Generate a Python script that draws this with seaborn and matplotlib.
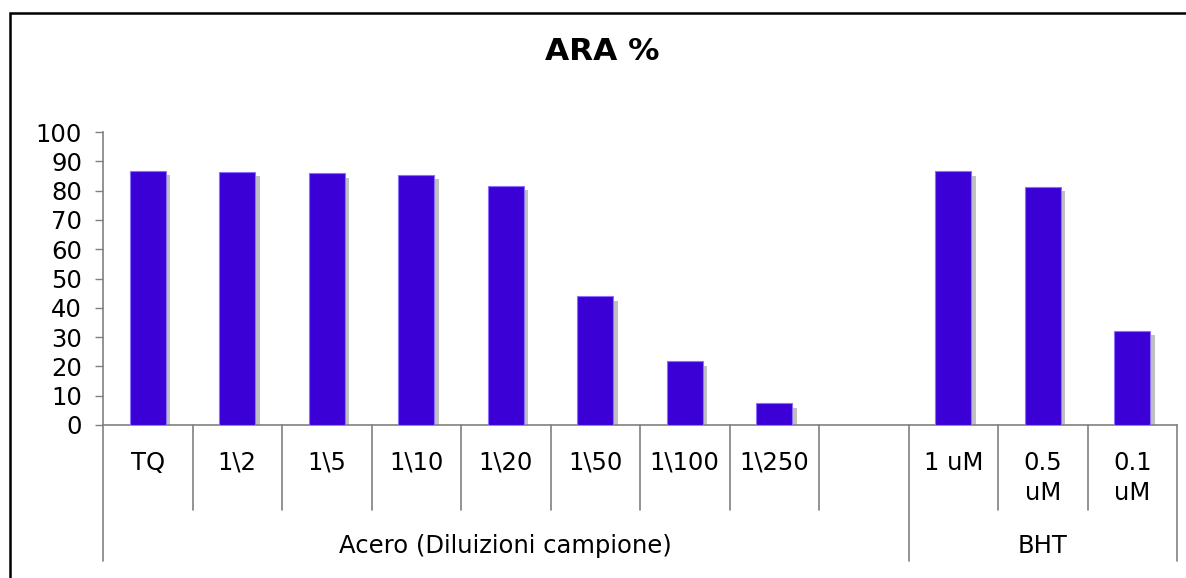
import matplotlib
matplotlib.use("Agg")
import matplotlib.pyplot as plt
import matplotlib.transforms as mtransforms
from matplotlib.patches import Rectangle
import seaborn as sns
import pandas as pd
import numpy as np

# ---- data ----
categories = ["TQ", "1\\2", "1\\5", "1\\10", "1\\20", "1\\50", "1\\100", "1\\250", "",
              "1 uM", "0.5\nuM", "0.1\nuM"]
values = [86.8, 86.4, 86.0, 85.4, 81.6, 43.9, 21.7, 7.4, np.nan, 86.6, 81.3, 32.2]
groups = ["Acero (Diluizioni campione)", "BHT"]
group_sizes = [9, 3]
yticks = [0, 10, 20, 30, 40, 50, 60, 70, 80, 90, 100]
title = "ARA %"

sns.set_theme(style="white")
plt.rcParams['font.family'] = ['DejaVu Sans']

fig = plt.figure(figsize=(11.86, 5.78), dpi=100)
W, H = 1186, 578
ax = fig.add_axes([103 / W, 1 - 425 / H, (1177 - 103) / W, (425 - 132) / H])

df = pd.DataFrame({"cat": categories, "val": values}).dropna()
order_keys = [c if c != "" else " " for c in categories]
df["cat"] = df["cat"].replace("", " ")

sns.barplot(data=df, x="cat", y="val", order=order_keys, color="#3A00D6",
            saturation=1, width=0.4, edgecolor="#8A70FF", linewidth=0.8, ax=ax, zorder=3)

# shadows
shadow_tr = mtransforms.offset_copy(ax.transData, fig=fig, x=4.5, y=-4.5, units="dots")
for p in list(ax.patches):
    if np.isnan(p.get_height()) or p.get_height() == 0:
        continue
    s = Rectangle((p.get_x(), p.get_y()), p.get_width(), p.get_height(),
                  transform=shadow_tr, facecolor="#C0C0C0", edgecolor="none", zorder=2)
    ax.add_patch(s)

n = len(categories)
ax.set_xlim(-0.5, n - 0.5)
ax.set_ylim(0, 100)
ax.set_yticks(yticks)
ax.set_yticklabels([str(t) for t in yticks], fontsize=17.5, color="black")
ax.tick_params(axis="y", which="major", direction="out", length=6, width=1, color="#808080", pad=9, left=True)
ax.set_xticks([])
ax.set_xlabel("")
ax.set_ylabel("")
for side in ["top", "right"]:
    ax.spines[side].set_visible(False)
for side in ["left", "bottom"]:
    ax.spines[side].set_visible(True)
    ax.spines[side].set_color("#808080")
    ax.spines[side].set_linewidth(1.2)
ax.grid(False)

btr = mtransforms.blended_transform_factory(ax.transData, ax.transAxes)
ax_h = 425 - 132
y_sep1 = -(510 - 425) / ax_h
y_sep2 = -(561 - 425) / ax_h
y_lab = -(451 - 425) / ax_h
y_grp = -(546 - 425) / ax_h

# category labels and separators
for i, c in enumerate(categories):
    ax.text(i, y_lab, c, transform=btr, ha="center", va="top", fontsize=17.5,
            linespacing=1.3, color="black")
group_bounds = np.cumsum([0] + group_sizes) - 0.5
for i in range(n + 1):
    x = i - 0.5
    y_end = y_sep2 if np.any(np.isclose(group_bounds, x)) else y_sep1
    ax.plot([x, x], [0, y_end], transform=btr, color="#808080", lw=1.2, clip_on=False)

# group labels
for g, lo, hi in zip(groups, group_bounds[:-1], group_bounds[1:]):
    ax.text((lo + hi) / 2, y_grp, g, transform=btr, ha="center", va="center",
            fontsize=17.5, color="black")

fig.text(602 / W, 1 - 52 / H, title, ha="center", va="center", fontsize=22.5,
         fontweight="bold", color="black")

# outer frame
fig.add_artist(Rectangle((10 / W, -0.05), 1.1, 1 - 13 / H + 0.05, transform=fig.transFigure,
                         fill=False, edgecolor="black", linewidth=1.8, clip_on=False))

fig.savefig("out.png", dpi=100, facecolor="white")
